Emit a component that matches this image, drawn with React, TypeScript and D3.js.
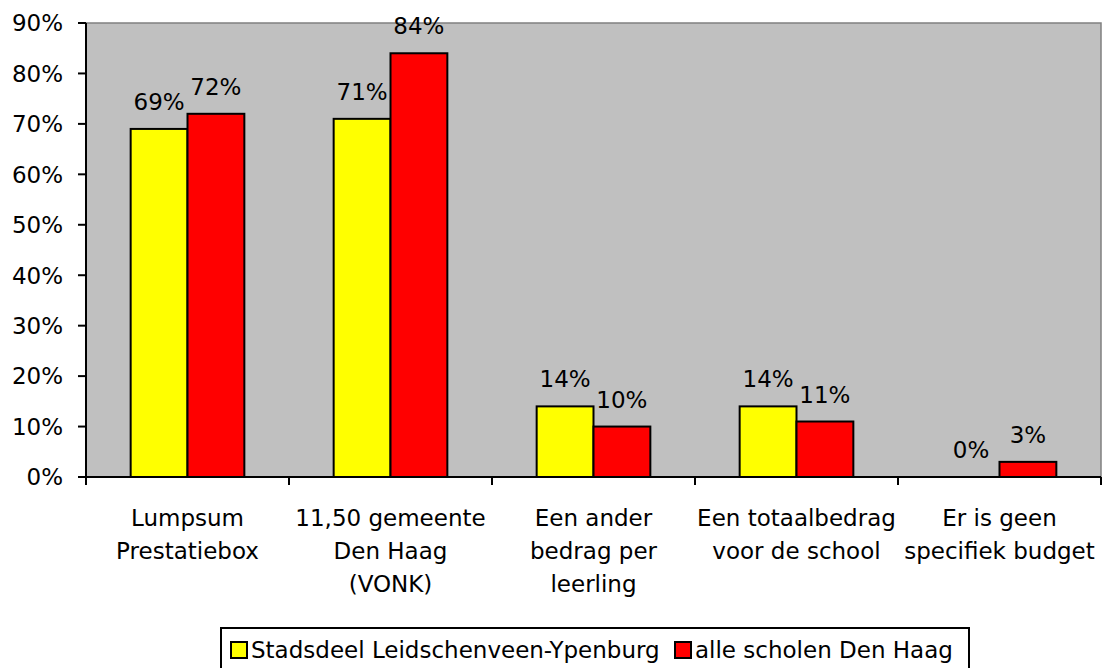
import React, { useEffect, useRef } from 'react';
import * as d3 from 'd3';

const categories = ['cat1', 'cat2', 'cat3', 'cat4', 'cat5'];
const categoryLines = [
  ['Lumpsum', 'Prestatiebox'],
  ['11,50 gemeente', 'Den Haag', '(VONK)'],
  ['Een ander', 'bedrag per', 'leerling'],
  ['Een totaalbedrag', 'voor de school'],
  ['Er is geen', 'specifiek budget'],
];
const seriesNames = ['Stadsdeel Leidschenveen-Ypenburg', 'alle scholen Den Haag'];
const seriesColors = ['#FFFF00', '#FF0000'];
const leidschenveen = [69, 71, 14, 14, 0];
const denHaag = [72, 84, 10, 11, 3];
const yTicks = [0, 10, 20, 30, 40, 50, 60, 70, 80, 90];

const W = 1102;
const H = 668;
const FONT = '"DejaVu Sans", Verdana, sans-serif';
const FS = 23;

export default function App() {
  const ref = useRef<SVGSVGElement>(null);

  useEffect(() => {
    const svg = d3.select(ref.current);
    svg.selectAll('*').remove();

    const left = 86, right = 1101, top = 23, bottom = 477;

    const x = d3.scaleBand().domain(categories).range([left, right]).paddingInner(0.44).paddingOuter(0.22);
    const xs = d3.scaleBand().domain(['0', '1']).range([0, x.bandwidth()]).padding(0);
    const y = d3.scaleLinear().domain([0, 90]).range([bottom, top]);

    // plot background
    svg.append('rect')
      .attr('x', left).attr('y', top)
      .attr('width', right - left).attr('height', bottom - top)
      .attr('fill', '#C0C0C0')
      .attr('stroke', '#808080').attr('stroke-width', 1.5);

    const data = categories.map((c, i) => ({ c, vals: [leidschenveen[i], denHaag[i]] }));

    const groups = svg.append('g').selectAll('g').data(data).join('g')
      .attr('transform', d => `translate(${x(d.c)},0)`);

    groups.selectAll('rect').data(d => d.vals.map((v, s) => ({ v, s }))).join('rect')
      .filter(d => d.v > 0)
      .attr('x', d => xs(String(d.s))!)
      .attr('y', d => y(d.v))
      .attr('width', xs.bandwidth())
      .attr('height', d => y(0) - y(d.v))
      .attr('fill', d => seriesColors[d.s])
      .attr('stroke', '#000').attr('stroke-width', 2);

    groups.selectAll('text.val').data(d => d.vals.map((v, s) => ({ v, s }))).join('text')
      .attr('class', 'val')
      .attr('x', d => xs(String(d.s))! + xs.bandwidth() / 2)
      .attr('y', d => y(d.v) - 19)
      .attr('text-anchor', 'middle')
      .attr('font-family', FONT).attr('font-size', FS)
      .attr('fill', '#000')
      .text(d => `${d.v}%`);

    // y axis
    const ya = svg.append('g');
    ya.append('line').attr('x1', left).attr('x2', left).attr('y1', top).attr('y2', bottom + 8)
      .attr('stroke', '#000').attr('stroke-width', 2);
    ya.selectAll('line.tick').data(yTicks).join('line').attr('class', 'tick')
      .attr('x1', left - 8).attr('x2', left).attr('y1', d => y(d)).attr('y2', d => y(d))
      .attr('stroke', '#000').attr('stroke-width', 2);
    ya.selectAll('text').data(yTicks).join('text')
      .attr('x', 63).attr('y', d => y(d)).attr('dy', '0.36em')
      .attr('text-anchor', 'end')
      .attr('font-family', FONT).attr('font-size', FS)
      .text(d => `${d}%`);

    // x axis
    const xa = svg.append('g');
    xa.append('line').attr('x1', left).attr('x2', right).attr('y1', bottom).attr('y2', bottom)
      .attr('stroke', '#000').attr('stroke-width', 2);
    const step = x.step();
    xa.selectAll('line.tick').data(d3.range(categories.length + 1)).join('line').attr('class', 'tick')
      .attr('x1', i => left + i * step).attr('x2', i => left + i * step)
      .attr('y1', bottom).attr('y2', bottom + 8)
      .attr('stroke', '#000').attr('stroke-width', 2);
    const labels = xa.selectAll('text').data(data).join('text')
      .attr('text-anchor', 'middle')
      .attr('font-family', FONT).attr('font-size', FS);
    labels.each(function (d, i) {
      const t = d3.select(this);
      categoryLines[i].forEach((line, j) => {
        t.append('tspan')
          .attr('x', x(d.c)! + x.bandwidth() / 2)
          .attr('y', 526 + j * 33)
          .text(line);
      });
    });

    // legend
    const lg = svg.append('g');
    lg.append('rect').attr('x', 221).attr('y', 628).attr('width', 748).attr('height', 46)
      .attr('fill', '#fff').attr('stroke', '#000').attr('stroke-width', 2);
    const legendX = [231, 675];
    seriesNames.forEach((name, i) => {
      lg.append('rect').attr('x', legendX[i]).attr('y', 642).attr('width', 16).attr('height', 16)
        .attr('fill', seriesColors[i]).attr('stroke', '#000').attr('stroke-width', 2);
      lg.append('text').attr('x', legendX[i] + 20).attr('y', 658)
        .attr('font-family', FONT).attr('font-size', FS)
        .text(name);
    });
  }, []);

  return (
    <div style={{ position: 'fixed', left: 0, top: 0, width: W, height: H, background: '#fff' }}>
      <svg ref={ref} width={W} height={H} style={{ display: 'block' }} />
    </div>
  );
}
